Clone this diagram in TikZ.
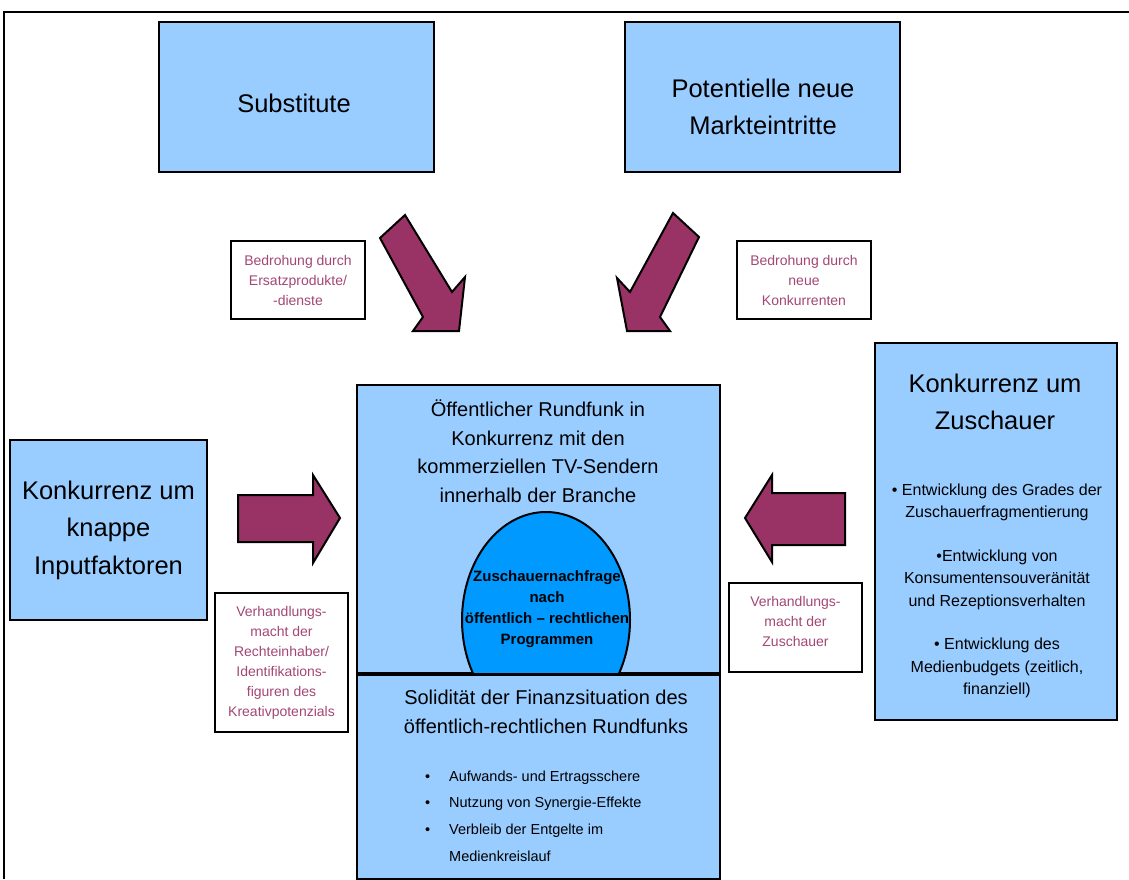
\documentclass[tikz,border=0pt]{standalone}
\usepackage{fontspec}
\setmainfont{Liberation Sans}
\definecolor{boxblue}{RGB}{153,204,255}
\definecolor{domeblue}{RGB}{0,153,255}
\definecolor{pfeil}{RGB}{153,51,102}

\begin{document}
\begin{tikzpicture}[x=1pt, y=-1pt,
  kasten/.style={draw, line width=2.5pt, fill=boxblue, inner sep=0pt},
  etikett/.style={draw, line width=1.5pt, fill=white, inner sep=0pt, text=pfeil!90!white, align=center, font=\fontsize{14}{20}\selectfont},
  gross/.style={align=center, inner sep=0pt, font=\fontsize{25.5}{37.5}\selectfont},
  mittel/.style={align=center, inner sep=0pt, font=\fontsize{20}{28.5}\selectfont}]

\useasboundingbox (0,0) rectangle (1129,879);
\draw [line width=2pt] (1129,12) -- (4,12) -- (4,879);

\node [kasten, minimum width=275pt, minimum height=150pt] (subst) at (296.5,97) {};
\node [kasten, minimum width=275pt, minimum height=150pt] (neu) at (762.5,97) {};
\node [gross] (substtext) at (294,103) {Substitute};
\node [gross] (neutext) at (763,107) {Potentielle neue\\Markteintritte};

\node [etikett, minimum width=134pt, minimum height=78pt] (ersatz) at (298,280) {Bedrohung durch\\Ersatzprodukte/\\-dienste};
\node [etikett, minimum width=134pt, minimum height=78pt] (konk) at (804,280) {Bedrohung durch\\neue\\Konkurrenten};

\node [kasten, minimum width=197pt, minimum height=180pt, gross] (input) at (108.5,530) {Konkurrenz um\\knappe\\Inputfaktoren};
\node [etikett, minimum width=133pt, minimum height=139pt] (rechte) at (281.5,662.5) {Verhandlungs-\\macht der\\Rechteinhaber/\\Identifikations-\\figuren des\\Kreativpotenzials};
\node [etikett, minimum width=133pt, minimum height=89pt] (macht) at (795.5,627.5) {Verhandlungs-\\macht der\\Zuschauer\\[-8pt]\mbox{}};

\node [kasten, minimum width=363pt, minimum height=288pt] (mitte) at (538.5,529) {};
\node [kasten, minimum width=363pt, minimum height=206pt] (finanz) at (538.5,776) {};

\begin{scope}
\clip (mitte.north west) rectangle (mitte.south east);
\draw [fill=domeblue, line width=2pt] (546,620) ellipse (84 and 108);
\end{scope}
\draw [line width=2.5pt] (mitte.south west) -- (mitte.south east);

\node [mittel] (mittetext) at (538,451) {Öffentlicher Rundfunk in\\Konkurrenz mit den\\kommerziellen TV-Sendern\\innerhalb der Branche};
\node [align=center, inner sep=0pt, font=\bfseries\fontsize{15}{21}\selectfont] (nachfrage) at (547,609) {Zuschauernachfrage\\nach\\öffentlich – rechtlichen\\Programmen};

\node [mittel] (finanztext) at (546,712) {Solidität der Finanzsituation des\\öffentlich-rechtlichen Rundfunks};
\node [align=left, anchor=west, inner sep=0pt, font=\fontsize{14.5}{26.7}\selectfont] (punkte) at (425,816) {\makebox[24pt][l]{•}Aufwands- und Ertragsschere\\\makebox[24pt][l]{•}Nutzung von Synergie-Effekte\\\makebox[24pt][l]{•}Verbleib der Entgelte im\\\makebox[24pt][l]{}Medienkreislauf};

\node [kasten, minimum width=242pt, minimum height=377pt] (zuschauer) at (996,531.5) {};
\node [gross] (zuschauertext) at (995,402) {Konkurrenz um\\Zuschauer};
\node [align=center, inner sep=0pt, font=\fontsize{16}{22.5}\selectfont] (liste) at (997,591) {• Entwicklung des Grades der\\Zuschauerfragmentierung\\[21pt]•Entwicklung von\\Konsumentensouveränität\\und Rezeptionsverhalten\\[21pt]• Entwicklung des\\Medienbudgets (zeitlich,\\finanziell)};

\draw [fill=pfeil, line width=2pt] (405,215) -- (380,238) -- (423,317) -- (413,331) -- (459,331) -- (465,277) -- (452,292) -- cycle;
\draw [fill=pfeil, line width=2pt] (673,213) -- (699,237) -- (660,317) -- (670,331) -- (627,331) -- (617,278) -- (630,292) -- cycle;
\draw [fill=pfeil, line width=2pt] (238,495) -- (313,495) -- (313,475) -- (340,518) -- (313,563) -- (313,542) -- (238,542) -- cycle;
\draw [fill=pfeil, line width=2pt] (745,518) -- (772,475) -- (772,493) -- (845,493) -- (845,545) -- (772,545) -- (772,562) -- cycle;

\end{tikzpicture}
\end{document}
